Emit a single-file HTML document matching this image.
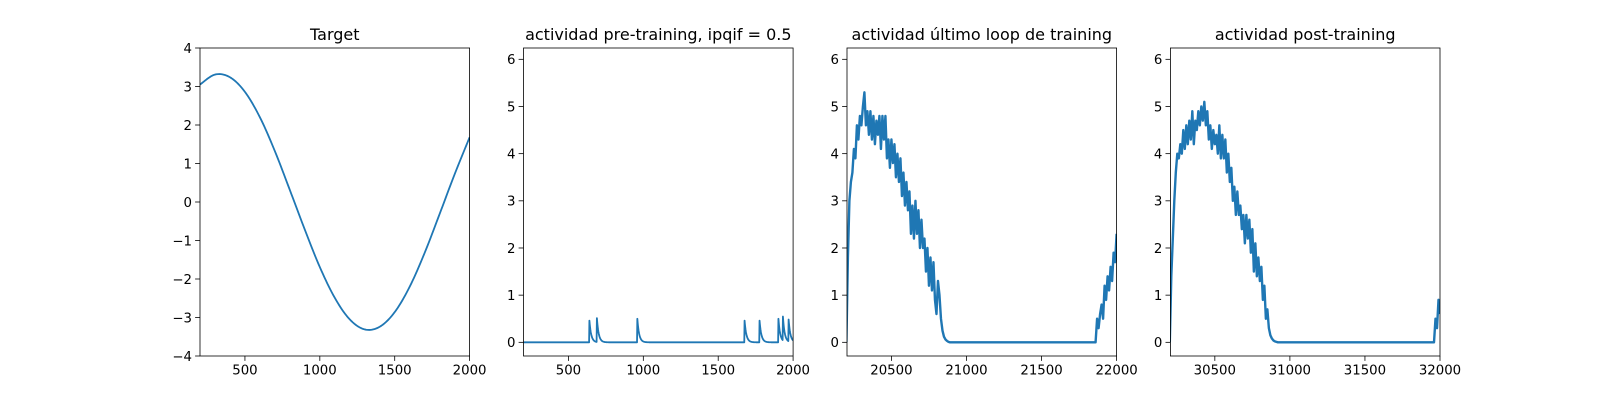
<!DOCTYPE html>
<html><head><meta charset="utf-8">
<style>
html,body{margin:0;padding:0;background:#fff;}
svg{display:block;font-family:"DejaVu Sans","Liberation Sans",sans-serif;}
</style></head>
<body>
<svg id="fig" width="1600" height="400" viewBox="0 0 1600 400" xmlns="http://www.w3.org/2000/svg">
<rect width="1600" height="400" fill="#fff"/>
</svg>
<script>
// ---- data ----
const targetX = [200,300,400,500,600,700,800,900,1000,1100,1200,1300,1400,1500,1600,1700,1800,1900,2000];
const targetY = [3.05,3.31,3.24,2.86,2.20,1.32,0.31,-0.72,-1.69,-2.49,-3.05,-3.31,-3.24,-2.86,-2.20,-1.32,-0.31,0.72,1.68];
const preSpikeTimes = [639,689,960,1675,1775,1902,1931,1969];
const preSpikeHeights = [0.5,0.55,0.5,0.5,0.5,0.5,0.55,0.5];
const lastStart = 20200;
const lastValues = [0.0,1.8,3.0,3.4,3.6,4.1,3.9,4.6,4.3,4.8,4.6,5.0,5.3,4.6,4.9,4.4,4.9,4.3,4.8,4.2,4.7,4.4,4.8,4.1,4.8,4.3,4.8,3.9,4.3,3.7,4.3,3.8,4.2,3.5,4.0,3.4,3.9,3.1,3.6,2.9,3.4,2.8,3.2,2.3,2.9,2.2,3.0,2.3,2.8,2.0,2.6,2.0,2.2,1.5,2.0,1.2,1.8,1.1,1.7,0.9,0.6,1.3,1.0,0.5,0.25,0.12,0.06,0.03,0.01,0,0];
const lastTailStart = 21860;
const lastTailValues = [0,0.5,0.3,0.6,0.8,0.5,1.2,0.9,1.4,1.1,1.6,1.3,1.9,1.7,2.3];
const postStart = 30200;
const postValues = [0,1.4,2.2,3.0,3.6,4.0,3.9,4.2,4.0,4.5,4.1,4.6,4.2,4.7,4.3,4.9,4.2,4.7,4.5,4.9,4.6,5.0,4.7,5.1,4.6,4.9,4.3,4.6,4.1,4.5,4.2,4.4,4.0,4.6,3.9,4.4,3.9,4.3,3.6,4.0,3.4,3.7,3.0,3.3,2.7,3.2,2.7,2.9,2.4,2.7,2.1,2.7,2.2,2.6,1.9,2.4,1.5,2.1,1.4,1.8,1.3,1.6,0.9,1.2,0.5,0.7,0.3,0.15,0.08,0.04,0.02,0.01,0];
const postTailStart = 31960;
const postTailValues = [0,0.5,0.3,0.9,0.6];
const xTicks1 = [500,1000,1500,2000];
const yTicks1 = [-4,-3,-2,-1,0,1,2,3,4];
const xTicks3 = [20500,21000,21500,22000];
const xTicks4 = [30500,31000,31500,32000];
const yTicksAct = [0,1,2,3,4,5,6];
const titles = ["Target","actividad pre-training, ipqif = 0.5","actividad último loop de training","actividad post-training"];

const NS="http://www.w3.org/2000/svg";
const svg=document.getElementById('fig');
function mk(tag,attrs,parent){const e=document.createElementNS(NS,tag);for(const k in attrs)e.setAttribute(k,attrs[k]);(parent||svg).appendChild(e);return e;}
const TOP=48,BOT=356,W=269.6;
const lefts=[200,523.5,847,1170.4];
function panel(i,xmin,xmax,ymin,ymax,xt,yt,series,sw){
  const L=lefts[i];
  const sx=v=>L+(v-xmin)/(xmax-xmin)*W;
  const sy=v=>BOT-(v-ymin)/(ymax-ymin)*(BOT-TOP);
  const g=mk('g',{});
  
  
  const cid='clip'+i;
  const cp=mk('clipPath',{id:cid},g);mk('rect',{x:L,y:TOP-1,width:W,height:BOT-TOP+2},cp);
  series.forEach(s=>{
    const p=mk('path',{d:s.map((pt,j)=>(j?'L':'M')+sx(pt[0]).toFixed(2)+','+sy(pt[1]).toFixed(2)).join(''),fill:'none',stroke:'#1f77b4','stroke-width':sw,'stroke-linejoin':'round','clip-path':'url(#'+cid+')'},g);
    
    
  });
  const fr=mk('rect',{x:L,y:TOP,width:W,height:BOT-TOP,fill:'none',stroke:'#000','stroke-width':0.8},g);
  
  
  xt.forEach(v=>{const x=sx(v);mk('line',{x1:x,x2:x,y1:BOT,y2:BOT+4.9,stroke:'#000','stroke-width':0.8},g);
    const t=mk('text',{x:x,y:BOT+18.5,'text-anchor':'middle','font-size':'13.3px',fill:'#000'},g);t.textContent=v;
    
    });
  yt.forEach(v=>{const y=sy(v);mk('line',{x1:L,x2:L-4.9,y1:y,y2:y,stroke:'#000','stroke-width':0.8},g);
    const t=mk('text',{x:L-8,y:y+4.8,'text-anchor':'end','font-size':'13.3px',fill:'#000'},g);t.textContent=(v<0?'\u2212'+(-v):v);
    
    });
  const tt=mk('text',{x:L+W/2,y:TOP-8,'text-anchor':'middle','font-size':'16px',fill:'#000'},g);tt.textContent=titles[i];
  
  
}
function smooth(xs,ys){const out=[];for(let i=0;i<xs.length-1;i++){const p0=i?i-1:i,p3=i+2<xs.length?i+2:i+1;
  for(let k=0;k<10;k++){const t=k/10,t2=t*t,t3=t2*t;
    const f=(a,b,c,d)=>0.5*((2*b)+(-a+c)*t+(2*a-5*b+4*c-d)*t2+(-a+3*b-3*c+d)*t3);
    out.push([f(xs[p0],xs[i],xs[i+1],xs[p3]),f(ys[p0],ys[i],ys[i+1],ys[p3])]);}}
  out.push([xs[xs.length-1],ys[ys.length-1]]);return out;}
function seq(start,vals){return vals.map((v,i)=>[start+10*i,v]);}
panel(0,200,2000,-4,4,xTicks1,yTicks1,[smooth(targetX,targetY)],1.8);
const pre=[];
for(let x=200;x<=2000;x+=2){let v=0;preSpikeTimes.forEach((t,j)=>{if(x>=t)v+=preSpikeHeights[j]*Math.exp(-(x-t)/12);});pre.push([x,v]);}
panel(1,200,2000,-0.29,6.24,xTicks1,yTicksAct,[pre],1.8);
const last=seq(lastStart,lastValues);last.push([lastTailStart,0]);seq(lastTailStart,lastTailValues).forEach(p=>last.push(p));
panel(2,20204,22000,-0.29,6.24,xTicks3,yTicksAct,[last],2.4);
const post=seq(postStart,postValues);post.push([postTailStart,0]);seq(postTailStart,postTailValues).forEach(p=>post.push(p));
panel(3,30204,32000,-0.29,6.24,xTicks4,yTicksAct,[post],2.4);
</script>
</body></html>
